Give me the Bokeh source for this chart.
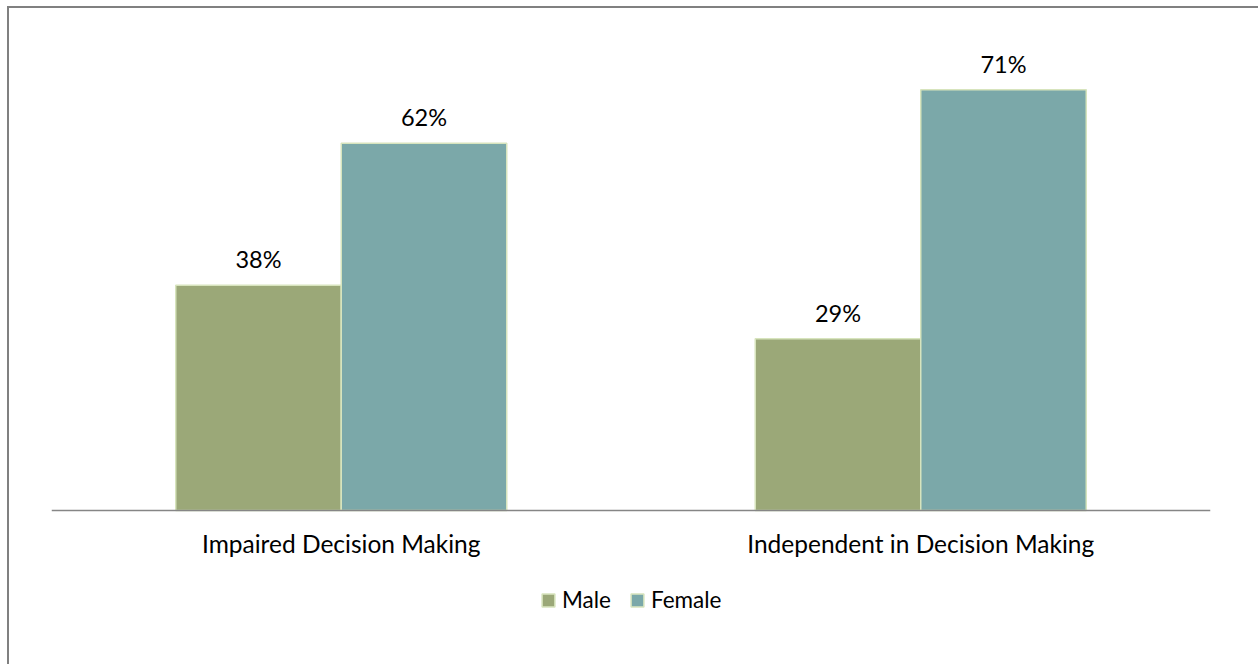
from bokeh.plotting import figure
from bokeh.models import ColumnDataSource, FactorRange, LabelSet, Legend, LegendItem, Range1d
from bokeh.transform import dodge
from bokeh.core.properties import value
from bokeh.embed import file_html
from bokeh.resources import INLINE

categories = ["Impaired Decision Making", "Independent in Decision Making"]
male = [38, 29]
female = [62, 71]
male_labels = ["38%", "29%"]
female_labels = ["62%", "71%"]

FONT = "Lato"
MALE_C = "#9BA878"
FEMALE_C = "#7BA8A9"
EDGE = "#D7E4BD"

src = ColumnDataSource(dict(cat=categories, male=male, female=female,
                            ml=male_labels, fl=female_labels))

p = figure(frame_width=1159, frame_height=628, output_backend="svg", toolbar_location=None,
           x_range=FactorRange(factors=categories, range_padding=0),
           y_range=Range1d(-26, 80))
p.styles = {"margin-left": "7px", "margin-top": "6px",
            "border-left": "2px solid #808080", "border-top": "2px solid #808080"}
p.min_border_left = 42
p.min_border_right = 48
p.min_border_top = 28
p.min_border_bottom = 0
p.outline_line_color = None
p.background_fill_color = "white"
p.border_fill_color = "white"
p.xgrid.visible = False
p.ygrid.visible = False
p.yaxis.visible = False

bw = 0.2856
r1 = p.vbar(x=dodge("cat", -bw / 2, range=p.x_range), top="male", width=bw, source=src,
            fill_color=MALE_C, line_color=EDGE, line_width=1.5)
r2 = p.vbar(x=dodge("cat", bw / 2, range=p.x_range), top="female", width=bw, source=src,
            fill_color=FEMALE_C, line_color=EDGE, line_width=1.5)

for col, lab, off in (("male", "ml", -bw / 2), ("female", "fl", bw / 2)):
    ls = LabelSet(x=dodge("cat", off, range=p.x_range), y=col, text=lab, source=src,
                  text_align="center", text_baseline="alphabetic", y_offset=17,
                  text_font=value(FONT), text_font_size=value("23.5px"), text_color="#000000")
    p.add_layout(ls)

xa = p.xaxis[0]
xa.fixed_location = 0
xa.axis_line_color = "#868686"
xa.axis_line_width = 1.5
xa.major_tick_line_color = None
xa.minor_tick_line_color = None
xa.major_label_standoff = 13
xa.major_label_text_font = FONT
xa.major_label_text_font_size = "24.5px"
xa.major_label_text_color = "#000000"

legend = Legend(items=[LegendItem(label="Male", renderers=[r1]),
                       LegendItem(label="Female", renderers=[r2])],
                orientation="horizontal", location=(489, 51),
                glyph_width=16, glyph_height=16, label_standoff=6, spacing=18,
                label_text_font=FONT, label_text_font_size="22.5px", label_text_color="#000000",
                border_line_color=None, background_fill_alpha=0, padding=0, margin=0)
p.add_layout(legend, "center")

open("out.html", "w").write(file_html(p, INLINE))
